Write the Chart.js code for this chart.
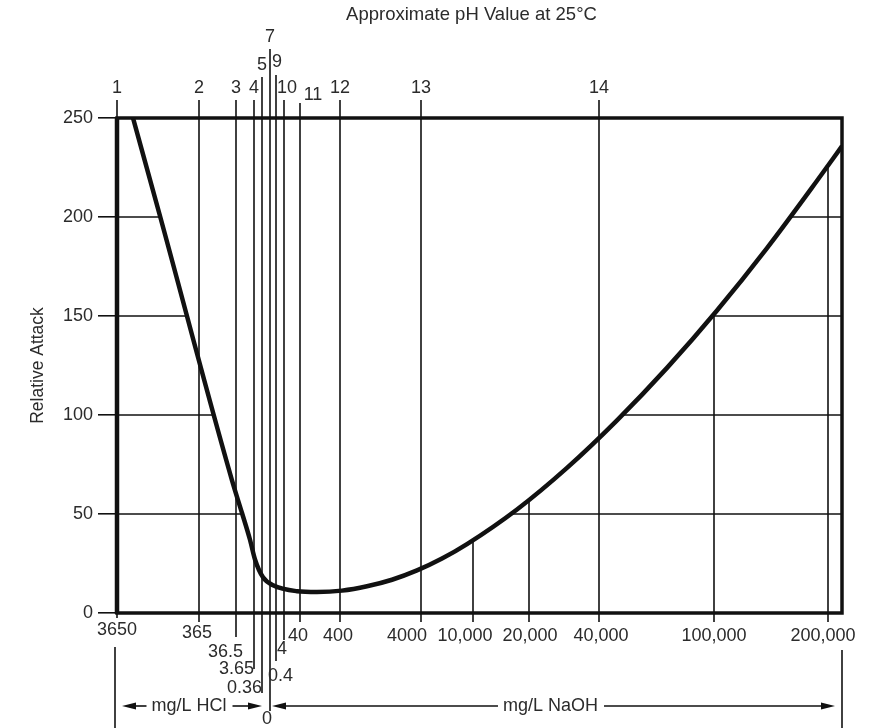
<!DOCTYPE html>
<html>
<head>
<meta charset="utf-8">
<script src="https://cdn.jsdelivr.net/npm/chart.js@4"></script>
<style>
  html, body { margin: 0; padding: 0; background: #fff; }
  #wrap { width: 872px; height: 728px; }
</style>
</head>
<body>
<div id="wrap"><canvas id="graficoAtaque"></canvas></div>
<script>
  // pH scale along the top (nomograph position of each line)
  const phLabels = ['1', '2', '3', '4', '5', '7', '9', '10', '11', '12', '13', '14'];
  const phPos = [0, 82, 119, 137, 145, 153, 159, 167, 183, 223, 304, 482];

  // concentration scale along the bottom (mg/L HCl left of 0, mg/L NaOH right)
  const concLabels = ['3650', '365', '36.5', '3.65', '0.36', '0', '0.4', '4', '40', '400', '4000',
    '10,000', '20,000', '40,000', '100,000', '200,000'];
  const concPos = [0, 82, 119, 137, 145, 153, 159, 167, 183, 223, 304, 356, 412, 482, 597, 711];

  // relative attack curve
  const curveX = [16, 43, 115, 125, 133, 138, 146, 156, 180, 200, 225, 250, 275, 300, 325, 350,
    400, 450, 500, 550, 600, 650, 700, 725];
  const curveY = [250, 200.5, 67, 50.5, 37, 27, 18, 14, 11, 10.6, 11.3, 13.5, 16.8, 21.5, 27.5, 34.8,
    52.3, 73.3, 97.3, 123.8, 152.8, 184.3, 218.3, 235.8];

  const yTicks = [0, 50, 100, 150, 200, 250];
  const gridLevels = [50, 100, 150, 200];

  // label placement (pixels): tick = how far the line rises above the frame
  const phStyle = [
    { tick: 18, dy: -30, dx: 0 }, { tick: 18, dy: -30, dx: 0 }, { tick: 18, dy: -30, dx: 0 },
    { tick: 18, dy: -30, dx: 0 }, { tick: 41, dy: -53, dx: 0 }, { tick: 69, dy: -81, dx: 0 },
    { tick: 43, dy: -56, dx: 1 }, { tick: 18, dy: -30, dx: 3 }, { tick: 15, dy: -23, dx: 13 },
    { tick: 18, dy: -30, dx: 0 }, { tick: 18, dy: -30, dx: 0 }, { tick: 18, dy: -30, dx: 0 }
  ];
  // line = how far the line drops below the frame
  const concStyle = [
    { line: 5, dy: 17, dx: 0, align: 'center' }, { line: 9, dy: 20, dx: -2, align: 'center' },
    { line: 24, dy: 39, dx: 7, align: 'right' }, { line: 56, dy: 56, dx: 0, align: 'right' },
    { line: 80, dy: 75, dx: 0, align: 'right' }, { line: 98, dy: 106, dx: -3, align: 'center' },
    { line: 48, dy: 63, dx: -8, align: 'left' }, { line: 27, dy: 36, dx: -2, align: 'center' },
    { line: 9, dy: 23, dx: -2, align: 'center' }, { line: 9, dy: 23, dx: -2, align: 'center' },
    { line: 9, dy: 23, dx: -14, align: 'center' }, { line: 9, dy: 23, dx: -8, align: 'center' },
    { line: 9, dy: 23, dx: 1, align: 'center' }, { line: 9, dy: 23, dx: 2, align: 'center' },
    { line: 9, dy: 23, dx: 0, align: 'center' }, { line: 9, dy: 23, dx: -5, align: 'center' }
  ];

  const FONT = '"Liberation Sans", Arial, sans-serif';
  const INK = '#111';
  const TEXT = '#2b2b2b';

  function curveAt(v) {
    for (let i = 0; i < curveX.length - 1; i++) {
      if (v >= curveX[i] && v <= curveX[i + 1]) {
        const t = (v - curveX[i]) / (curveX[i + 1] - curveX[i]);
        return curveY[i] + t * (curveY[i + 1] - curveY[i]);
      }
    }
    return curveY[curveY.length - 1];
  }

  // where the curve crosses a level on the falling and the rising side
  function crossings(level) {
    let l = null, r = null;
    for (let i = 0; i < curveX.length - 1; i++) {
      const a = curveY[i], b = curveY[i + 1];
      const t = (level - a) / (b - a);
      if (t < 0 || t > 1) continue;
      const xv = curveX[i] + t * (curveX[i + 1] - curveX[i]);
      if (a > b && l === null) l = xv;
      if (a < b) r = xv;
    }
    return [l, r];
  }

  function seg(c, x1, y1, x2, y2) {
    c.beginPath(); c.moveTo(x1, y1); c.lineTo(x2, y2); c.stroke();
  }

  function arrowHead(c, tipX, y, dir) {
    c.beginPath();
    c.moveTo(tipX, y);
    c.lineTo(tipX - dir * 14, y - 3.5);
    c.lineTo(tipX - dir * 14, y + 3.5);
    c.closePath(); c.fill();
  }

  const nomograma = {
    id: 'nomograma',
    beforeDatasetsDraw(chart) {
      const { ctx: c, chartArea: a, scales: { x, y } } = chart;
      c.save();
      c.strokeStyle = INK;
      c.lineWidth = 1.6;
      phPos.forEach((p, i) => {
        const px = x.getPixelForValue(p);
        const k = concPos.indexOf(p);
        seg(c, px, a.top - phStyle[i].tick, px, a.bottom + (k >= 0 ? concStyle[k].line : 0));
      });
      concPos.forEach((p, i) => {
        if (phPos.includes(p)) return;
        const px = x.getPixelForValue(p);
        seg(c, px, y.getPixelForValue(curveAt(p)), px, a.bottom + concStyle[i].line);
      });
      gridLevels.forEach(v => {
        const [l, r] = crossings(v);
        const py = y.getPixelForValue(v);
        seg(c, a.left, py, x.getPixelForValue(l), py);
        seg(c, x.getPixelForValue(r), py, a.right, py);
      });
      c.restore();
    },
    afterDatasetsDraw(chart) {
      const { ctx: c, chartArea: a, scales: { x } } = chart;
      c.save();
      c.strokeStyle = INK;
      c.fillStyle = INK;
      c.lineWidth = 3.5;
      c.strokeRect(a.left, a.top, a.right - a.left, a.bottom - a.top);
      c.lineWidth = 4.5;
      seg(c, a.left, a.top - 1, a.left, a.bottom + 1);

      c.fillStyle = TEXT;
      c.textBaseline = 'middle';
      c.textAlign = 'center';
      c.font = '18.5px ' + FONT;
      c.fillText('Approximate pH Value at 25\u00B0C', (a.left + a.right) / 2 - 8, a.top - 103);

      c.font = '18px ' + FONT;
      phLabels.forEach((t, i) => {
        const s = phStyle[i];
        c.fillText(t, x.getPixelForValue(phPos[i]) + s.dx, a.top + s.dy);
      });
      concLabels.forEach((t, i) => {
        const s = concStyle[i];
        c.textAlign = s.align;
        c.fillText(t, x.getPixelForValue(concPos[i]) + s.dx, a.bottom + s.dy);
      });

      // mg/L HCl and mg/L NaOH ranges
      const ay = a.bottom + 93;
      const zero = x.getPixelForValue(concPos[concLabels.indexOf('0')]);
      c.strokeStyle = INK;
      c.fillStyle = INK;
      c.lineWidth = 1.6;
      seg(c, a.left - 2, a.bottom + 34, a.left - 2, chart.height);
      seg(c, a.right, a.bottom + 37, a.right, chart.height);
      const ranges = [
        { text: 'mg/L HCl', from: a.left + 5, to: zero - 8 },
        { text: 'mg/L NaOH', from: zero + 2, to: a.right - 7 }
      ];
      ranges.forEach(r => {
        const mid = (r.from + r.to) / 2 - 3;
        const w = c.measureText(r.text).width;
        c.fillStyle = INK;
        seg(c, r.from + 6, ay, mid - w / 2 - 5, ay);
        seg(c, mid + w / 2 + 6, ay, r.to - 6, ay);
        arrowHead(c, r.from, ay, -1);
        arrowHead(c, r.to, ay, 1);
        c.fillStyle = TEXT;
        c.textAlign = 'center';
        c.fillText(r.text, mid, ay);
      });
      c.restore();
    }
  };

  const ctx = document.getElementById('graficoAtaque').getContext('2d');

  const grafico = new Chart(ctx, {
    type: 'line',
    data: {
      datasets: [{
        data: curveX.map((v, i) => ({ x: v, y: curveY[i] })),
        borderColor: INK,
        borderWidth: 4.5,
        pointRadius: 0,
        fill: false,
        cubicInterpolationMode: 'monotone'
      }]
    },
    options: {
      responsive: true,
      maintainAspectRatio: false,
      animation: false,
      layout: { padding: { top: 118, right: 30, bottom: 115, left: 0 } },
      plugins: {
        legend: { display: false },
        tooltip: { enabled: false }
      },
      scales: {
        x: { type: 'linear', min: 0, max: 725, display: false },
        y: {
          min: 0,
          max: 250,
          afterFit(s) { s.width = 117; },
          afterBuildTicks(s) { s.ticks = yTicks.map(v => ({ value: v })); },
          ticks: { color: TEXT, font: { family: FONT, size: 18 }, padding: 5 },
          grid: { drawOnChartArea: false, drawTicks: true, tickLength: 19, color: INK, lineWidth: 1.6 },
          border: { display: false },
          title: {
            display: true,
            text: 'Relative Attack',
            color: TEXT,
            font: { family: FONT, size: 17.5 },
            padding: { top: 28, bottom: 0 }
          }
        }
      }
    },
    plugins: [nomograma]
  });
</script>
</body>
</html>
